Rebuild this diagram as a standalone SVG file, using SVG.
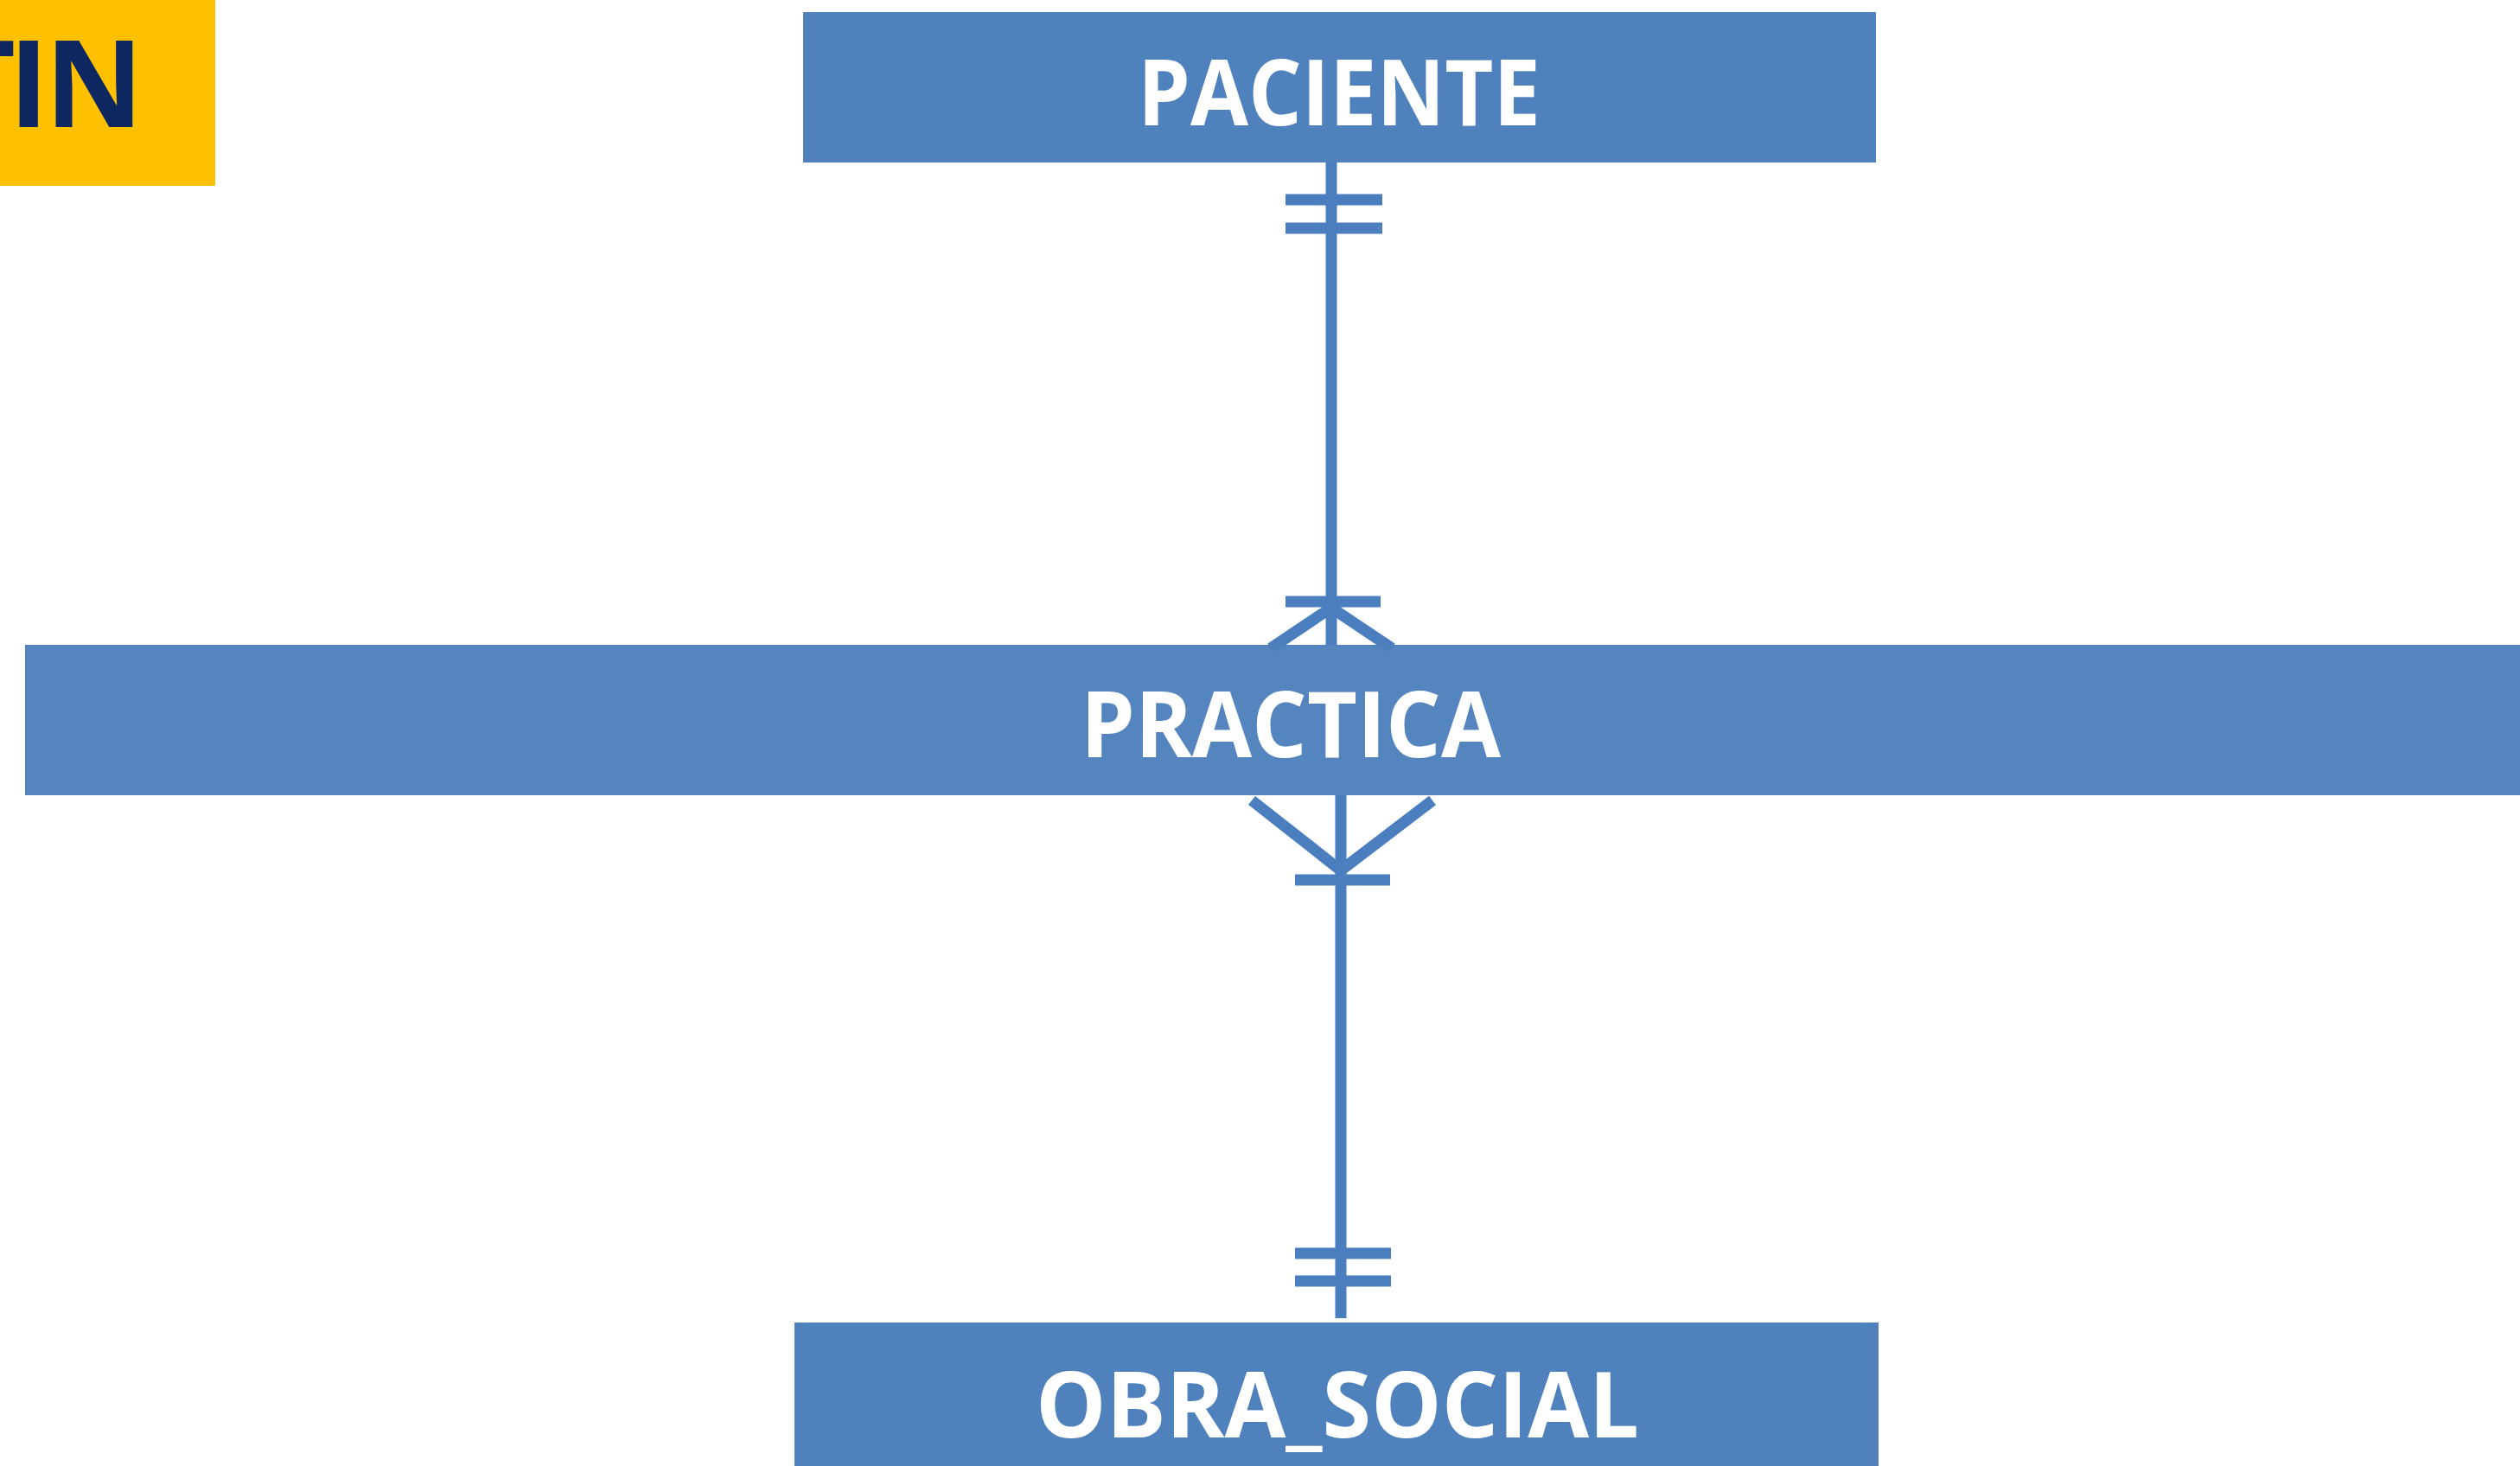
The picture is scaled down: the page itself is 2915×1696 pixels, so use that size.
<svg xmlns="http://www.w3.org/2000/svg" width="2915" height="1696" viewBox="0 0 2915 1696">
<style>
.ent{fill:#4F81BD}
.lbl{font-family:"Open Sans","Noto Sans","Liberation Sans",sans-serif;font-weight:700;font-size:106px;fill:#FFFFFF;text-anchor:middle}
.cn{stroke:#4A7EBF;stroke-width:13;fill:none;stroke-linecap:butt}
</style>
<rect width="2915" height="1696" fill="#FFFFFF"/>
<g id="title">
<rect x="0" y="0" width="249" height="215" fill="#FFC000"/>
<text x="-63 10 52" y="147" font-family="Open Sans, Noto Sans, Liberation Sans, sans-serif" font-weight="700" font-size="140" fill="#0E2760">TIN</text>
</g>
<g id="connectors">
<line class="cn" x1="1540" y1="188" x2="1540" y2="746"/>
<line class="cn" x1="1487" y1="231" x2="1599" y2="231"/>
<line class="cn" x1="1487" y1="264" x2="1599" y2="264"/>
<line class="cn" x1="1487" y1="696" x2="1597" y2="696"/>
<path class="cn" d="M1470 750 L1540 703 L1610 750"/>
<line class="cn" x1="1551" y1="920" x2="1551" y2="1525"/>
<path class="cn" d="M1448 926 L1551 1007 L1657 926"/>
<line class="cn" x1="1498" y1="1018" x2="1608" y2="1018"/>
<line class="cn" x1="1498" y1="1450" x2="1609" y2="1450"/>
<line class="cn" x1="1498" y1="1482" x2="1609" y2="1482"/>
</g>
<g id="paciente">
<rect class="ent" x="929" y="14" width="1241" height="174"/>
<text class="lbl" x="1549" y="145" textLength="466" lengthAdjust="spacingAndGlyphs">PACIENTE</text>
</g>
<g id="practica">
<rect class="ent" x="29" y="746" width="2886" height="174" fill-opacity="0.97"/>
<text class="lbl" x="1493" y="876" textLength="486" lengthAdjust="spacingAndGlyphs">PRACTICA</text>
</g>
<g id="obra_social">
<rect class="ent" x="919" y="1530" width="1254" height="166"/>
<text class="lbl" x="1547" y="1663" textLength="698" lengthAdjust="spacingAndGlyphs">OBRA_SOCIAL</text>
</g>
</svg>
